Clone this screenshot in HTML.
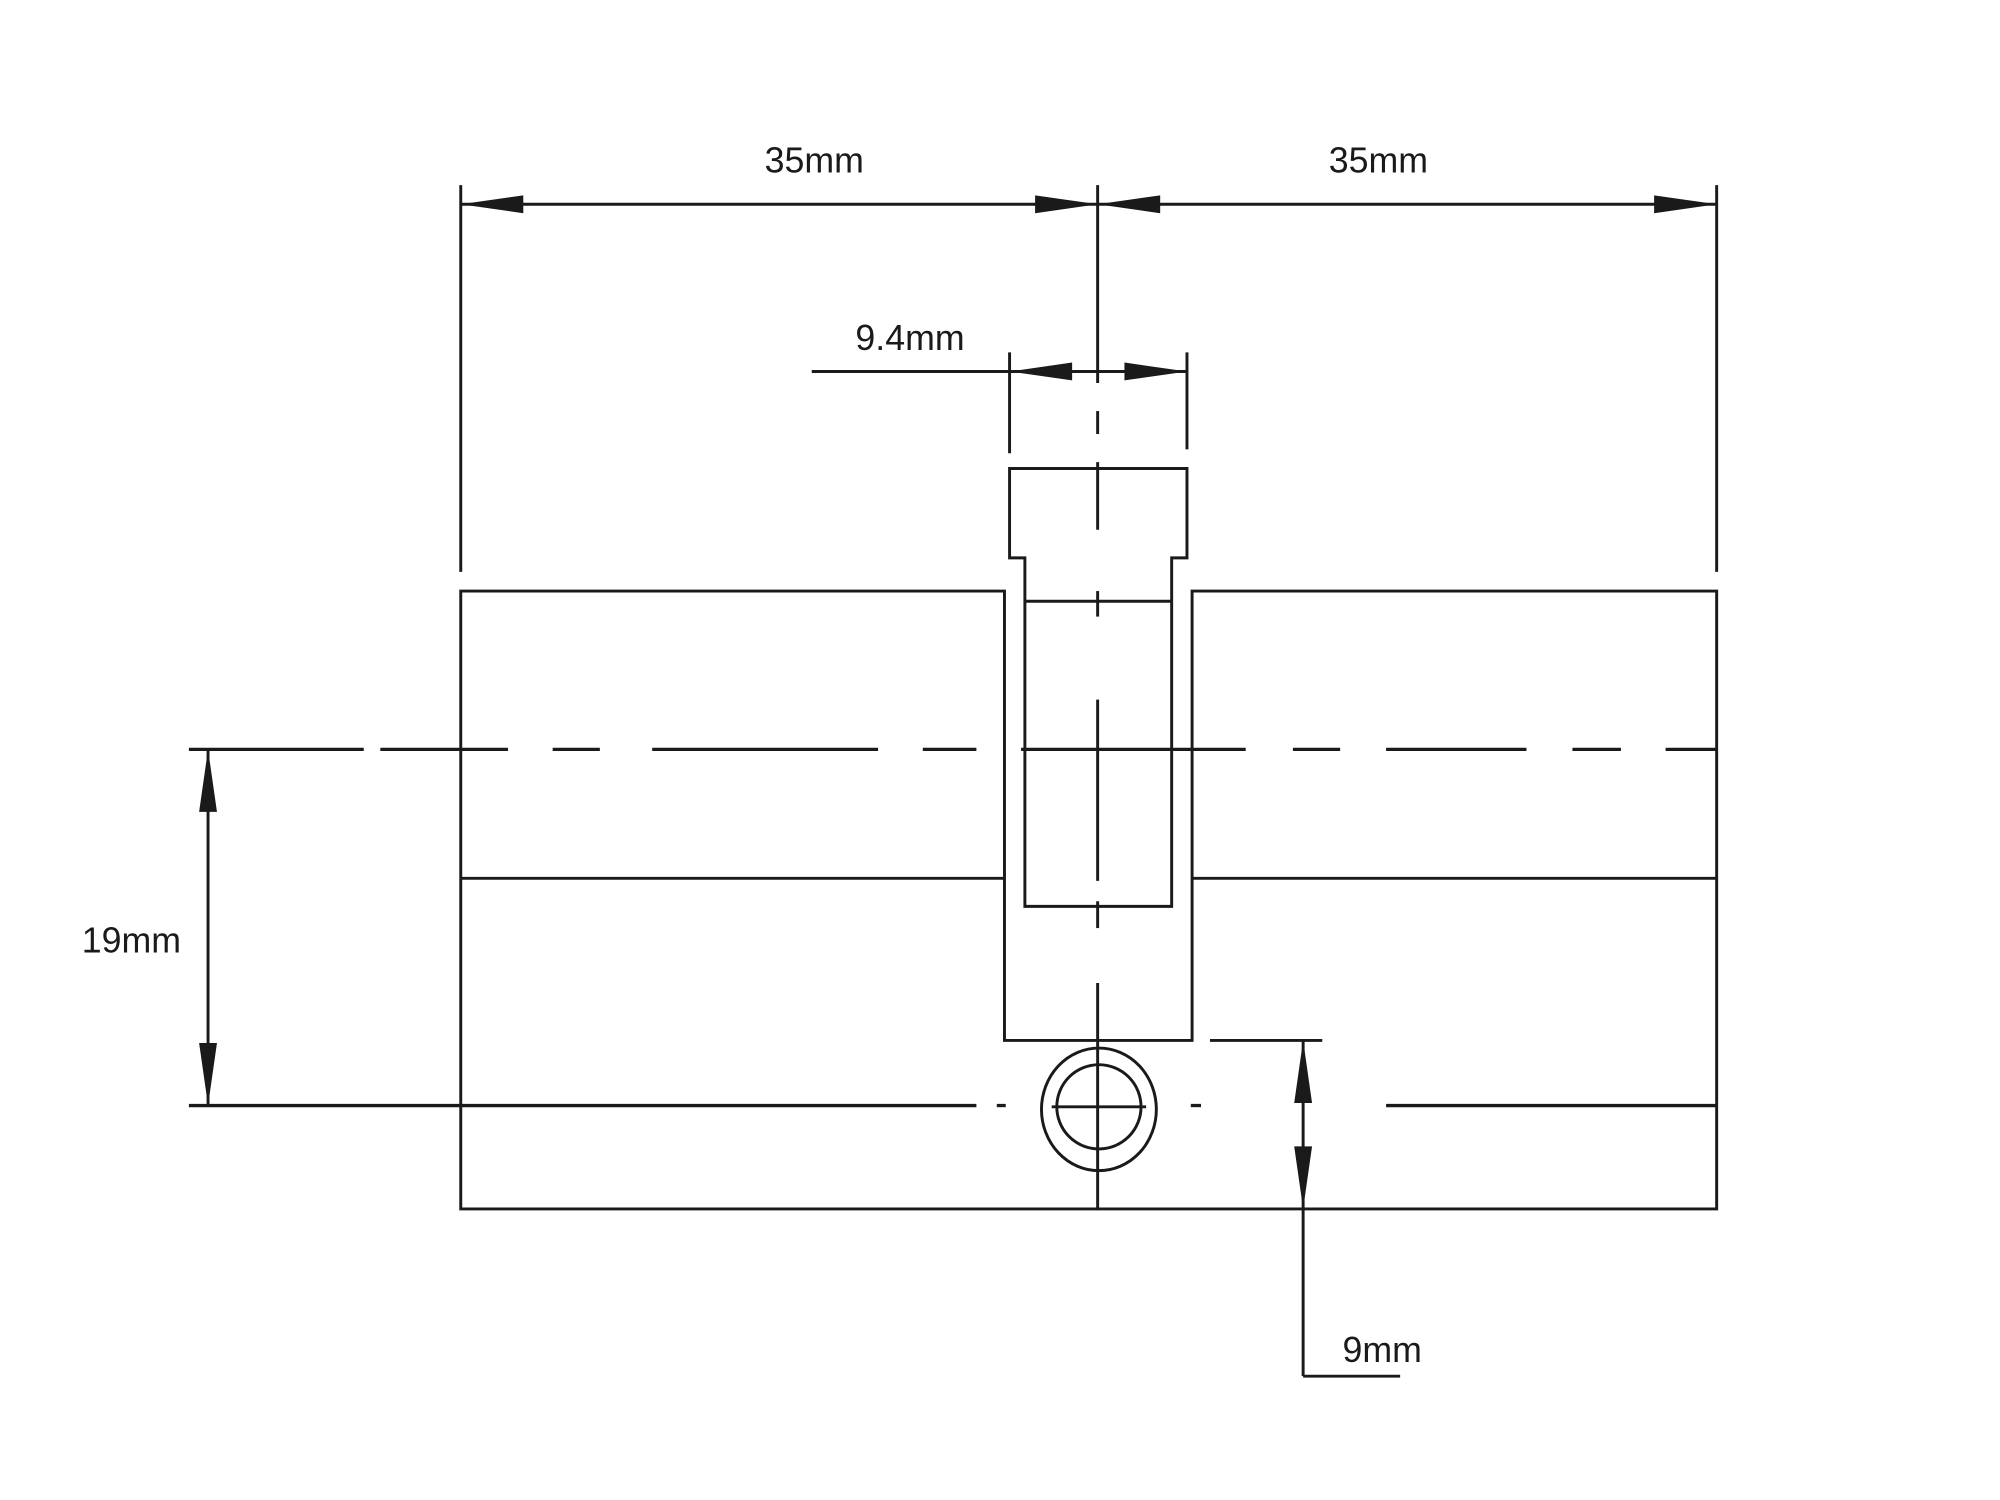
<!DOCTYPE html>
<html><head><meta charset="utf-8"><style>
html,body{margin:0;padding:0;background:#fff;}
svg{display:block;}
text{font-family:"Liberation Sans",sans-serif;font-size:28px;fill:#1a1a1a;}
</style></head><body>
<svg width="2000" height="1500" viewBox="0 0 1567 1175" preserveAspectRatio="none" xmlns="http://www.w3.org/2000/svg">
<g stroke="#1a1a1a" stroke-width="2.3" fill="none">
<line x1="361" y1="145" x2="361" y2="448"/>
<line x1="1345" y1="145" x2="1345" y2="448"/>
<line x1="860" y1="145" x2="860" y2="300"/>
<line x1="361" y1="160" x2="1345" y2="160"/>
<line x1="636" y1="291" x2="930" y2="291"/>
<line x1="791" y1="276" x2="791" y2="355"/>
<line x1="930" y1="276" x2="930" y2="352"/>
<line x1="860" y1="322" x2="860" y2="340"/>
<line x1="860" y1="362" x2="860" y2="415"/>
<line x1="860" y1="463" x2="860" y2="483"/>
<line x1="860" y1="548" x2="860" y2="690"/>
<line x1="860" y1="706" x2="860" y2="727"/>
<line x1="860" y1="770" x2="860" y2="948"/>
<path d="M791 437 L791 367 L930 367 L930 437 L918 437 L918 710 L803 710 L803 437 Z"/>
<line x1="803" y1="471" x2="918" y2="471"/>
<path d="M787 463 L361 463 L361 947 L1345 947 L1345 463 L934 463 L934 815 L787 815 Z"/>
<line x1="361" y1="688" x2="787" y2="688"/>
<line x1="934" y1="688" x2="1345" y2="688"/>
<g stroke-width="2.6">
<line x1="148" y1="587" x2="285" y2="587"/>
<line x1="298" y1="587" x2="398" y2="587"/>
<line x1="433" y1="587" x2="470" y2="587"/>
<line x1="511" y1="587" x2="688" y2="587"/>
<line x1="723" y1="587" x2="765" y2="587"/>
<line x1="800" y1="587" x2="976" y2="587"/>
<line x1="1013" y1="587" x2="1050" y2="587"/>
<line x1="1086" y1="587" x2="1196" y2="587"/>
<line x1="1232" y1="587" x2="1270" y2="587"/>
<line x1="1305" y1="587" x2="1345" y2="587"/>
<line x1="148" y1="866" x2="765" y2="866"/>
<line x1="781" y1="866" x2="788" y2="866"/>
<line x1="933" y1="866" x2="941" y2="866"/>
<line x1="1086" y1="866" x2="1345" y2="866"/>
</g>
<ellipse cx="861" cy="869" rx="45" ry="48"/>
<circle cx="861" cy="867" r="33"/>
<line x1="824" y1="867" x2="898" y2="867"/>
<line x1="163" y1="587" x2="163" y2="866"/>
<line x1="948" y1="815" x2="1036" y2="815"/>
<line x1="1021" y1="815" x2="1021" y2="1078"/>
<line x1="1021" y1="1078" x2="1097" y2="1078"/>
</g>
<g fill="#1a1a1a">
<polygon points="361,160 410,153 410,167"/>
<polygon points="860,160 811,153 811,167"/>
<polygon points="860,160 909,153 909,167"/>
<polygon points="1345,160 1296,153 1296,167"/>
<polygon points="791,291 840,284 840,298"/>
<polygon points="930,291 881,284 881,298"/>
<polygon points="163,587 156,636 170,636"/>
<polygon points="163,866 156,817 170,817"/>
<polygon points="1021,815 1014,864 1028,864"/>
<polygon points="1021,947 1014,898 1028,898"/>
</g>
<text x="638" y="135" text-anchor="middle">35mm</text>
<text x="1080" y="135" text-anchor="middle">35mm</text>
<text x="713" y="274" text-anchor="middle">9.4mm</text>
<text x="103" y="746" text-anchor="middle">19mm</text>
<text x="1083" y="1067" text-anchor="middle">9mm</text>
</svg>
</body></html>
